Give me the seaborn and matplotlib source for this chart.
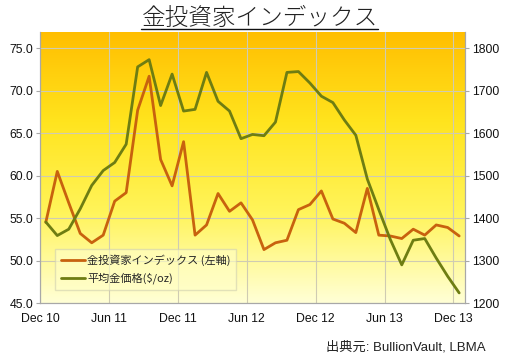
import numpy as np
import pandas as pd
import seaborn as sns
import matplotlib.pyplot as plt
from matplotlib.colors import LinearSegmentedColormap
from matplotlib.lines import Line2D

# monthly data, Dec 2010 .. Dec 2013
investor_index = [54.5, 60.5, 56.8, 53.2, 52.1, 53.0, 57.0, 58.0, 67.7, 71.7,
                  61.9, 58.8, 64.0, 53.0, 54.2, 57.9, 55.8, 56.8, 54.8, 51.3,
                  52.1, 52.4, 56.0, 56.6, 58.2, 54.9, 54.4, 53.3, 58.5, 53.0,
                  52.9, 52.6, 53.7, 53.0, 54.2, 53.9, 52.9]
gold_price = [1391, 1359, 1374, 1422, 1477, 1512, 1531, 1574, 1756, 1773,
              1665, 1739, 1652, 1656, 1743, 1675, 1652, 1587, 1597, 1594,
              1626, 1743, 1745, 1718, 1687, 1672, 1631, 1595, 1492, 1420,
              1350, 1290, 1348, 1352, 1306, 1263, 1224]
tick_labels = ["Dec 10", "Jun 11", "Dec 11", "Jun 12", "Dec 12", "Jun 13", "Dec 13"]

title_text = "金投資家インデックス"
label_index = "金投資家インデックス (左軸)"
label_gold = "平均金価格($/oz)"
source_text = "出典元: BullionVault, LBMA"

df = pd.DataFrame({"month": np.arange(len(investor_index)) + 0.5,
                   "index": investor_index, "gold": gold_price})

sns.set_style("white")
plt.rcParams["font.family"] = ["Liberation Sans", "Noto Sans CJK JP"]

orange = "#C8620E"
olive = "#6E7D12"
grid_c = "#CFCBB2"

fig = plt.figure(figsize=(5.07, 3.6), dpi=100)
ax = fig.add_axes([0.079, 0.158, 0.838, 0.753])
ax2 = ax.twinx()

# gradient background
cmap = LinearSegmentedColormap.from_list("bg", ["#FFFFD6", "#FFF45A", "#FFE41E", "#FFBE00"])
grad = np.linspace(0, 1, 256).reshape(-1, 1)
ax.imshow(grad, aspect="auto", cmap=cmap, origin="lower",
          extent=[0, 1, 0, 1], transform=ax.transAxes, zorder=0)

sns.lineplot(data=df, x="month", y="index", ax=ax, color=orange, lw=2.0, zorder=3)
sns.lineplot(data=df, x="month", y="gold", ax=ax2, color=olive, lw=2.0, zorder=3)

ax.set_xlim(0, 37)
ax.set_ylim(45, 76.9)
ax2.set_ylim(1200, 1838)
ax.set_xticks(np.arange(0, 37, 6))
ax.set_xticklabels(tick_labels)
ax.set_yticks(np.arange(45, 76, 5))
ax.set_yticklabels([f"{v:.1f}" for v in np.arange(45, 76, 5)])
ax2.set_yticks(np.arange(1200, 1801, 100))
ax.set_xlabel("")
ax.set_ylabel("")
ax2.set_ylabel("")

ax.grid(True, color=grid_c, lw=0.8)
for gl in ax.get_xgridlines() + ax.get_ygridlines():
    gl.set_zorder(1)
ax.set_zorder(1)
ax2.set_zorder(2)
ax2.patch.set_visible(False)

for a in (ax, ax2):
    for s in a.spines.values():
        s.set_color("#A8A8A8")
        s.set_linewidth(0.8)
    a.spines["top"].set_visible(False)
    a.tick_params(length=3, width=0.8, color="#A8A8A8", labelsize=8.8,
                  labelcolor="#111111", pad=2)
ax.tick_params(axis="x", pad=4)

handles = [Line2D([], [], color=orange, lw=2.0), Line2D([], [], color=olive, lw=2.0)]
leg = ax2.legend(handles, [label_index, label_gold], loc="lower left",
                 bbox_to_anchor=(0.022, 0.028), fancybox=False, framealpha=0.6,
                 facecolor="#FFFFC8", edgecolor="#D0CFB0",
                 handlelength=2.2, handletextpad=0.2, borderpad=0.5,
                 labelspacing=0.6, prop={"family": ["Noto Sans CJK JP"], "size": 8})

title = fig.text(0.512, 0.915, title_text, ha="center", va="bottom",
                 fontsize=17, family=["Noto Sans CJK JP"], weight="light",
                 color="#222222")
fig.text(0.957, 0.018, source_text, ha="right", va="bottom", fontsize=9.5,
         color="#222222")

fig.canvas.draw()
bb = title.get_window_extent().transformed(fig.transFigure.inverted())
fig.add_artist(Line2D([bb.x0, bb.x1], [bb.y0 + 0.004, bb.y0 + 0.004],
                      color="#111111", lw=1.0, transform=fig.transFigure))

fig.savefig("out.png", dpi=100)
